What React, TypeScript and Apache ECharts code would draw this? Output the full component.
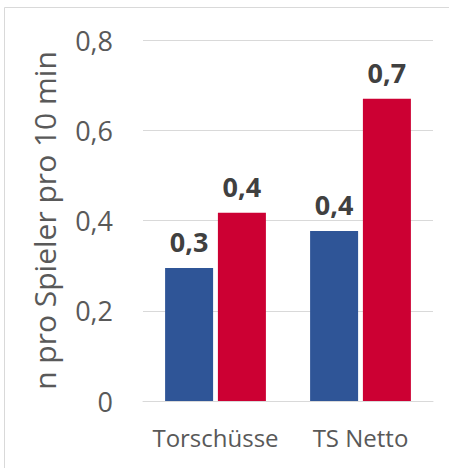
import React, { useEffect, useRef } from "react";
import * as echarts from "echarts";

const categories = ["Torschüsse", "TS Netto"];
const seriesBlue = [0.295, 0.377];
const seriesRed = [0.417, 0.67];
const yTicks = [0, 0.2, 0.4, 0.6, 0.8];
const yAxisTitle = "n pro Spieler pro 10 min";

const fmt = (v: number) => (Math.round(v * 10) / 10).toFixed(1).replace(".", ",");
const fmtTick = (v: number) => (v === 0 ? "0" : v.toFixed(1).replace(".", ","));

export default function App() {
  const ref = useRef<HTMLDivElement>(null);
  useEffect(() => {
    if (!ref.current) return;
    const chart = echarts.init(ref.current, undefined, { renderer: "svg" });
    const font = "'Open Sans', 'Noto Sans', sans-serif";
    const labelStyle = {
      show: true,
      position: "top" as const,
      distance: 13,
      fontFamily: font,
      fontWeight: "bold" as const,
      fontSize: 27,
      color: "#404040",
      formatter: (p: any) => fmt(p.value),
    };
    chart.setOption({
      animation: false,
      backgroundColor: "#ffffff",
      textStyle: { fontFamily: font },
      graphic: [
        {
          type: "rect",
          shape: { x: 4.5, y: 7.5, width: 500, height: 500 },
          style: { fill: "none", stroke: "#d9d9d9", lineWidth: 1 },
          silent: true,
        },
      ],
      grid: { left: 143, right: 16, top: 40, bottom: 67, containLabel: false },
      xAxis: {
        type: "category",
        data: categories,
        axisLine: { show: true, lineStyle: { color: "#d9d9d9", width: 1 } },
        axisTick: { show: false },
        axisLabel: { interval: 0, fontFamily: font, fontSize: 24, color: "#595959", margin: 24 },
      },
      yAxis: {
        type: "value",
        min: yTicks[0],
        max: yTicks[yTicks.length - 1],
        interval: 0.2,
        name: yAxisTitle,
        nameLocation: "middle",
        nameGap: 84,
        nameRotate: 90,
        nameTextStyle: { fontFamily: font, fontSize: 30, color: "#595959" },
        axisLine: { show: false },
        axisTick: { show: false },
        splitLine: { lineStyle: { color: "#d9d9d9", width: 1 } },
        axisLabel: {
          fontFamily: font,
          fontSize: 27,
          color: "#595959",
          margin: 30,
          formatter: (v: number) => fmtTick(v),
        },
      },
      series: [
        {
          type: "bar",
          data: seriesBlue,
          barWidth: 48,
          barGap: "10%",
          itemStyle: { color: "#2F5597" },
          label: labelStyle,
        },
        {
          type: "bar",
          data: seriesRed,
          barWidth: 48,
          barGap: "10%",
          itemStyle: { color: "#CC0033" },
          label: labelStyle,
        },
      ],
    });
    return () => chart.dispose();
  }, []);
  return (
    <div
      ref={ref}
      style={{ position: "fixed", left: 0, top: 0, width: 449, height: 468 }}
    />
  );
}
